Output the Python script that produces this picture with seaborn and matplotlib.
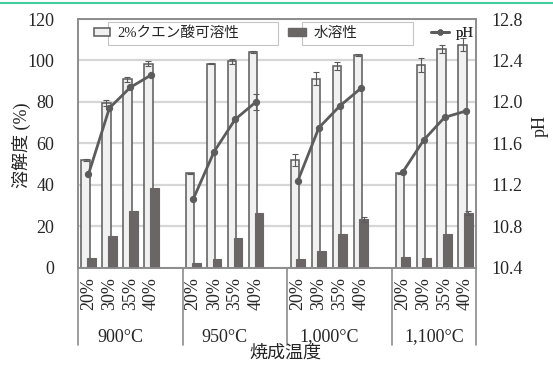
import numpy as np
import pandas as pd
import matplotlib
matplotlib.use("Agg")
import matplotlib.pyplot as plt
import seaborn as sns
from matplotlib.patches import Patch, Rectangle
from matplotlib.lines import Line2D
from matplotlib.transforms import blended_transform_factory

# --- data -------------------------------------------------------------
temps = ["900°C", "950°C", "1,000°C", "1,100°C"]
ratios = ["20%", "30%", "35%", "40%"]

citric = [52.0, 79.5, 90.8, 98.4,
          45.4, 98.4, 99.5, 104.0,
          51.8, 91.2, 97.3, 102.7,
          45.4, 97.9, 105.6, 107.6]
citric_err = [0.6, 1.5, 1.0, 1.2,
              0.3, 0.3, 1.2, 0.5,
              3.0, 3.0, 2.0, 0.5,
              0.3, 3.5, 2.0, 3.0]
water = [4.7, 15.2, 27.4, 38.2,
         2.0, 4.1, 14.4, 26.1,
         4.1, 8.1, 16.0, 23.2,
         4.9, 4.7, 16.0, 26.4]
water_err = [0, 0, 0, 0,
             0, 0, 0, 0,
             0, 0, 0, 1.0,
             0, 0, 0, 1.0]
ph = [11.30, 11.94, 12.14, 12.26,
      11.06, 11.52, 11.83, 12.00,
      11.24, 11.75, 11.96, 12.13,
      11.32, 11.63, 11.85, 11.91]
ph_err = [0, 0, 0, 0,
          0, 0, 0, 0.08,
          0, 0, 0, 0,
          0, 0, 0, 0]

# slot layout: four bars per temperature, one empty slot between groups
pos = []
for g in range(len(temps)):
    for k in range(len(ratios)):
        pos.append(g * 5 + k)
pos = np.array(pos, dtype=float)

df = pd.DataFrame({
    "pos": pos,
    "temp": np.repeat(temps, len(ratios)),
    "ratio": ratios * len(temps),
    "citric": citric,
    "water": water,
    "ph": ph,
})

# --- style ------------------------------------------------------------
sns.set_theme(style="white")
plt.rcParams["font.family"] = ["Liberation Serif", "Noto Sans CJK JP"]

LIGHT = "#f1f1f1"
DARK = "#6b6666"
EDGE = "#5a5a5a"
LINEC = "#5c5c5c"
SPINE = "#8c8c8c"
GRID = "#d6d6d6"

fig = plt.figure(figsize=(5.53, 3.65), dpi=100)
ax = fig.add_axes([78 / 553, 1 - 267.5 / 365, 398 / 553, 248.5 / 365])
ax2 = ax.twinx()

off = 0.14
sns.barplot(x=df["pos"] - off, y=df["citric"], native_scale=True, width=0.4,
            color=LIGHT, edgecolor=EDGE, linewidth=1.1, saturation=1,
            errorbar=None, ax=ax, zorder=2)
sns.barplot(x=df["pos"] + off, y=df["water"], native_scale=True, width=0.42,
            color=DARK, edgecolor=DARK, linewidth=0.8, saturation=1,
            errorbar=None, ax=ax, zorder=3)
ax.errorbar(df["pos"] - off, df["citric"], yerr=citric_err, fmt="none",
            ecolor=EDGE, elinewidth=0.8, capsize=2.5, capthick=0.8, zorder=4)
werr = np.array(water_err)
m = werr > 0
ax.errorbar((df["pos"] + off)[m], df["water"][m], yerr=werr[m], fmt="none",
            ecolor=EDGE, elinewidth=0.8, capsize=2.5, capthick=0.8, zorder=4)

sns.lineplot(data=df, x="pos", y="ph", units="temp", estimator=None,
             color=LINEC, lw=2, marker="o", markersize=4.5,
             markeredgecolor=LINEC, ax=ax2, zorder=5)
perr = np.array(ph_err)
mp = perr > 0
ax2.errorbar(df["pos"][mp], df["ph"][mp], yerr=perr[mp], fmt="none",
             ecolor=LINEC, elinewidth=0.8, capsize=2.5, capthick=0.8)

# --- axes -------------------------------------------------------------
ax.set_xlim(-0.5, 18.5)
ax.set_ylim(0, 120)
ax.set_yticks(np.arange(0, 121, 20))
ax.set_yticklabels([str(v) for v in range(0, 121, 20)], fontsize=13)
ax.yaxis.grid(True, color=GRID, lw=1.6)
ax.set_axisbelow(True)
ax.set_xticks(pos)
ax.set_xticklabels(df["ratio"], rotation=90, fontsize=13)
ax.tick_params(axis="x", length=0, pad=7)
ax.tick_params(axis="y", length=0, pad=17)
ax.set_xlabel("")
ax.set_ylabel("溶解度 (%)", fontsize=13)
ax.yaxis.set_label_coords(-0.118, 0.49)

ax2.set_ylim(10.4, 12.8)
ax2.set_yticks(np.arange(10.4, 12.81, 0.4))
ax2.set_yticklabels([f"{v:.1f}" for v in np.arange(10.4, 12.81, 0.4)], fontsize=13)
ax2.tick_params(axis="y", length=0, pad=11)
ax2.set_xlabel("")
ax2.set_ylabel("pH", fontsize=13, rotation=90, va="center", ha="center")
ax2.yaxis.set_label_coords(1.16, 0.57)

for a in (ax, ax2):
    for s in a.spines.values():
        s.set_color(SPINE)
        s.set_linewidth(1.2)

# group separators and temperature labels below the axis
trans = blended_transform_factory(ax.transData, ax.transAxes)
for xb in [-0.5, 4.5, 9.5, 14.5, 18.5]:
    ax.add_line(Line2D([xb, xb], [0, -0.313], transform=trans, color=SPINE,
                       lw=1.2, clip_on=False))
for g, t in enumerate(temps):
    ax.text(g * 5 + 1.5, -0.28, t, transform=trans, ha="center", va="center",
            fontsize=13)
fig.text(285 / 553, 1 - 353 / 365, "焼成温度", ha="center", va="center",
         fontsize=13)

# --- legend -----------------------------------------------------------
for x0, x1 in [(108, 278), (302, 413)]:
    ax2.add_patch(Rectangle(((x0 - 78) / 398, (267.5 - 45) / 248.5),
                            (x1 - x0) / 398, 23 / 248.5,
                            transform=ax2.transAxes, facecolor="white",
                            edgecolor="#c4c4c4", lw=0.8, zorder=6,
                            clip_on=False))
ly = (267.5 - 33.5) / 248.5
entries = [
    (Patch(facecolor=LIGHT, edgecolor=EDGE, lw=1.1), "2%クエン酸可溶性", 87, 1.1),
    (Patch(facecolor=DARK, edgecolor=DARK), "水溶性", 281, 1.2),
    (Line2D([], [], color=LINEC, lw=2, marker="o", markersize=3.5), "pH", 424, 1.2),
]
for h, lab, xl, hl in entries:
    lg = ax2.legend([h], [lab], loc="center left",
                    bbox_to_anchor=((xl - 78) / 398, ly), frameon=False,
                    borderpad=0, handlelength=hl, handleheight=0.45,
                    handletextpad=0.5, fontsize=10.5)
    lg.set_zorder(7)
    ax2.add_artist(lg)

# thin accent rule across the top of the figure
fig.add_artist(Line2D([0, 1], [1 - 2.5 / 365] * 2, transform=fig.transFigure,
                      color="#3fcf9e", lw=1.5))

fig.savefig("out.png", dpi=100)
